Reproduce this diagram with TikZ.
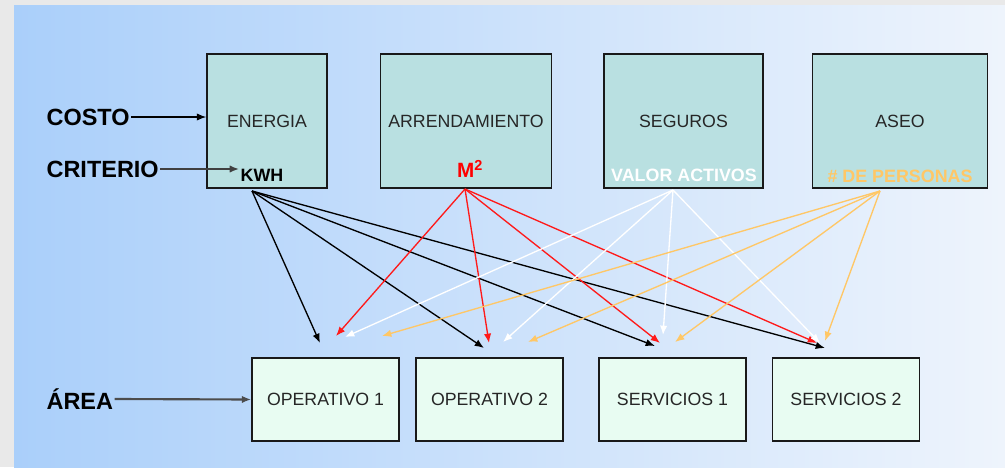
\documentclass[tikz,border=0pt]{standalone}
\usepackage{fontspec}
\setmainfont{Liberation Sans}
\usetikzlibrary{arrows.meta}
\definecolor{outerbg}{HTML}{E9E9E9}
\definecolor{bgleft}{HTML}{AACFFA}
\definecolor{bgright}{HTML}{EEF4FC}
\definecolor{costfill}{HTML}{B9E0E1}
\definecolor{areafill}{HTML}{E8FCF2}
\definecolor{persona}{HTML}{FFC766}
\definecolor{linered}{HTML}{FF1A1A}
\begin{document}
\begin{tikzpicture}[x=0.75pt,y=-0.75pt,>={Latex[length=7pt,width=5.5pt]},
    cost/.style={draw=black!90,line width=1.2pt,fill=costfill,inner sep=0pt,minimum height=100.5pt,text=black!85,font=\fontsize{13.3}{15}\selectfont},
    area/.style={draw=black!90,line width=1.2pt,fill=areafill,inner sep=0pt,minimum width=110.25pt,minimum height=62.25pt,text=black!85,font=\fontsize{13.3}{15}\selectfont},
    crit/.style={inner sep=1pt,font=\bfseries\fontsize{13.4}{15}\selectfont},
    side/.style={anchor=west,inner sep=1pt,font=\bfseries\fontsize{17.6}{20}\selectfont},
    link/.style={->,line width=1pt}]
    \useasboundingbox (0,0) rectangle (1005,467);
    \fill[outerbg] (0,0) rectangle (1005,467);
    \shade[left color=bgleft,right color=bgright] (14,6) rectangle (1005,467);
    % cost boxes
    \node[cost,minimum width=90pt] (energia) at (267,121) {ENERGIA};
    \node[cost,minimum width=128.25pt] (arrend) at (466,121) {ARRENDAMIENTO};
    \node[cost,minimum width=119.25pt] (seguros) at (683.5,121) {SEGUROS};
    \node[cost,minimum width=131.25pt] (aseo) at (900,121) {ASEO};
    \node[crit,text=black] (kwh) at (262,175) {KWH};
    \node[crit,text=red,font=\bfseries\fontsize{15.5}{17}\selectfont] (m2) at (470,169) {M\textsuperscript{2}};
    \node[crit,text=white] (valor) at (684,175) {VALOR ACTIVOS};
    \node[crit,text=persona] (personas) at (900,176) {\# DE PERSONAS};
    % area boxes
    \node[area] (op1) at (325.5,399.5) {OPERATIVO 1};
    \node[area] (op2) at (489.5,399.5) {OPERATIVO 2};
    \node[area] (serv1) at (672.5,399.5) {SERVICIOS 1};
    \node[area] (serv2) at (846,399.5) {SERVICIOS 2};
    % left labels
    \node[side] (costo) at (45,117) {COSTO};
    \node[side] (criterio) at (45,169) {CRITERIO};
    \node[side] (areaname) at (45,399) {ÁREA};
    \draw[->,line width=0.9pt] (costo.east) -- (costo.east -| energia.west);
    \draw[->,line width=1.2pt,black!75] (criterio.east) -- (criterio.east -| kwh.west);
    \draw[->,line width=1.6pt,black!70] (areaname.east) -- (op1.west);
    % start and end points of the links
    \coordinate (kwhout) at (252,191);
    \coordinate (m2out) at (465,189);
    \coordinate (valorout) at (673,190);
    \coordinate (persout) at (880,191);
    \foreach \n/\x/\y in {k1/320/343, k2/484/348, k3/655/346, k4/825/348,
                          r1/336/336, r2/489/343, r3/660/343, r4/817/343,
                          w1/345/337, w2/503/342, w3/663/335, w4/820/343,
                          o1/382/336, o2/528/342, o3/675/342, o4/825/341}
        \coordinate (\n) at (\x,\y);
    % links
    \foreach \t in {k1,k2,k3,k4}
        \draw[link,black] (kwhout) -- (\t);
    \foreach \t in {r1,r2,r3,r4}
        \draw[link,linered] (m2out) -- (\t);
    \foreach \t in {w1,w2,w3,w4}
        \draw[link,white] (valorout) -- (\t);
    \foreach \t in {o1,o2,o3,o4}
        \draw[link,persona] (persout) -- (\t);
\end{tikzpicture}
\end{document}
